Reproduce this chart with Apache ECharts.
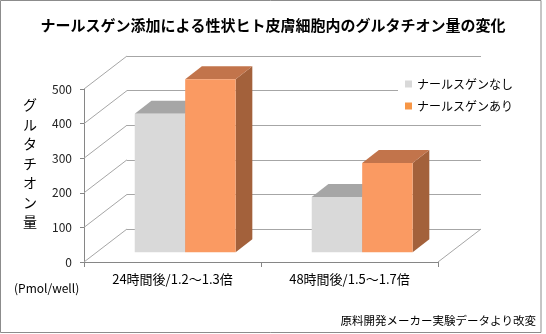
<!DOCTYPE html>
<html>
<head>
<meta charset="utf-8">
<script src="https://cdn.jsdelivr.net/npm/echarts@6/dist/echarts.min.js"></script>
<style>
  html, body { margin: 0; padding: 0; background: #fff; }
  #chart { width: 546px; height: 334px; }
</style>
</head>
<body>
<div id="chart"></div>
<script>
// Glutathione content in human skin cells, with and without Narsgen
const categories = ['24時間後/1.2～1.3倍', '48時間後/1.5～1.7倍'];
const withoutNarsgen = [400, 160];
const withNarsgen = [500, 258];
const yTicks = [0, 100, 200, 300, 400, 500];
const seriesNames = ['ナールスゲンなし', 'ナールスゲンあり'];

const FONT = '"Noto Sans CJK JP", "Noto Sans", sans-serif';

// pseudo-3D depth of the plot box (pixels from front plane to back wall)
const WALL_DX = 43, WALL_DY = -33;
// bar placement inside that depth
const BAR_FRONT = 0.295, BAR_DEPTH_X = 16.7, BAR_DEPTH_Y = -13;
const BAR_WIDTH_RATIO = 0.285;

const palettes = [
  { front: '#d9d9d9', top: '#a6a6a6', side: '#a0a0a0' },
  { front: '#fa9a62', top: '#c2744b', side: '#a3613b' }
];

function boxBar(slot, pal) {
  return function (params, api) {
    const cat = api.value(0), v = api.value(1);
    const base = api.coord([cat, 0]);
    const top = api.coord([cat, v]);
    const band = api.size([1, 0])[0];
    const bw = band * BAR_WIDTH_RATIO;
    const x0 = base[0] + slot * bw + WALL_DX * BAR_FRONT;
    const yb = base[1] + WALL_DY * BAR_FRONT;
    const yt = top[1] + WALL_DY * BAR_FRONT;
    const x1 = x0 + bw;
    const dx = BAR_DEPTH_X, dy = BAR_DEPTH_Y;
    return {
      type: 'group',
      children: [
        { type: 'polygon', shape: { points: [[x1, yt], [x1 + dx, yt + dy], [x1 + dx, yb + dy], [x1, yb]] },
          style: { fill: pal.side } },
        { type: 'polygon', shape: { points: [[x0, yt], [x1, yt], [x1 + dx, yt + dy], [x0 + dx, yt + dy]] },
          style: { fill: pal.top } },
        { type: 'rect', shape: { x: x0, y: yt, width: bw, height: yb - yt },
          style: { fill: pal.front } }
      ]
    };
  };
}

// side-wall and floor edges running from the front plane to the back wall
function wallEdges(params, api) {
  const v = api.value(1);
  const p = api.coord([0, v]);
  const band = api.size([1, 0])[0];
  const x = p[0] - band / 2;
  const style = { stroke: '#a6a6a6', lineWidth: 1 };
  const children = [
    { type: 'line', shape: { x1: x, y1: p[1], x2: x + WALL_DX, y2: p[1] + WALL_DY }, style: style }
  ];
  if (v === 0) {
    const xr = x + band * categories.length;
    children.push({ type: 'line', shape: { x1: xr, y1: p[1], x2: xr + WALL_DX, y2: p[1] + WALL_DY }, style: style });
  }
  return { type: 'group', children: children };
}

const chart = echarts.init(document.getElementById('chart'), null, { renderer: 'canvas' });

chart.setOption({
  animation: false,
  backgroundColor: '#fff',
  title: {
    text: 'ナールスゲン添加による性状ヒト皮膚細胞内のグルタチオン量の変化',
    left: 'center',
    top: 13,
    textStyle: { fontFamily: FONT, fontSize: 15, fontWeight: 'bold', color: '#000' }
  },
  legend: {
    orient: 'vertical',
    left: 398,
    top: 69,
    data: seriesNames,
    icon: 'rect',
    itemWidth: 7,
    itemHeight: 7,
    itemGap: 8,
    padding: [8, 10, 8, 7],
    backgroundColor: '#fff',
    textStyle: { fontFamily: FONT, fontSize: 12, color: '#000', lineHeight: 14 }
  },
  grid: [
    { left: 84, right: 108, top: 89, bottom: 72 },
    { left: 84 + WALL_DX, right: 108 - WALL_DX, top: 89 + WALL_DY, bottom: 72 - WALL_DY }
  ],
  xAxis: [
    {
      gridIndex: 0,
      type: 'category',
      data: categories,
      axisLine: { lineStyle: { color: '#868686', width: 1 } },
      axisTick: { show: true, length: 5, lineStyle: { color: '#868686' } },
      axisLabel: { fontFamily: FONT, fontSize: 13, color: '#000', margin: 11 },
      splitLine: { show: false }
    },
    { gridIndex: 1, type: 'category', data: categories, show: false }
  ],
  yAxis: [
    {
      gridIndex: 0,
      type: 'value',
      min: 0, max: 500, interval: 100,
      axisLine: { show: true, lineStyle: { color: '#868686', width: 1 } },
      axisTick: { show: true, length: 4, lineStyle: { color: '#868686' } },
      axisLabel: { fontFamily: FONT, fontSize: 12, color: '#222', margin: 12 },
      splitLine: { show: false }
    },
    {
      gridIndex: 1,
      type: 'value',
      min: 0, max: 500, interval: 100,
      axisLine: { show: false },
      axisTick: { show: false },
      axisLabel: { show: false },
      splitLine: { show: true, lineStyle: { color: '#a6a6a6', width: 1 } }
    }
  ],
  series: [
    {
      type: 'custom',
      name: 'walls',
      xAxisIndex: 0, yAxisIndex: 0,
      silent: true,
      renderItem: wallEdges,
      data: yTicks.map(function (v) { return [0, v]; }),
      z: 1
    },
    {
      type: 'custom',
      name: seriesNames[0],
      xAxisIndex: 0, yAxisIndex: 0,
      itemStyle: { color: '#d9d9d9' },
      renderItem: boxBar(-1, palettes[0]),
      encode: { x: 0, y: 1 },
      data: withoutNarsgen.map(function (v, i) { return [i, v]; }),
      z: 2
    },
    {
      type: 'custom',
      name: seriesNames[1],
      xAxisIndex: 0, yAxisIndex: 0,
      itemStyle: { color: '#f79646' },
      renderItem: boxBar(0, palettes[1]),
      encode: { x: 0, y: 1 },
      data: withNarsgen.map(function (v, i) { return [i, v]; }),
      z: 3
    }
  ],
  graphic: [
    {
      type: 'text',
      left: 23, top: 95,
      style: {
        text: 'グルタチオン量'.split('').join('\n'),
        font: '14px ' + FONT,
        fill: '#000',
        lineHeight: 19.5,
        align: 'center'
      }
    },
    {
      type: 'text',
      left: 14, top: 282,
      style: { text: '(Pmol/well)', font: '12px ' + FONT, fill: '#000' }
    },
    {
      type: 'text',
      right: 10, top: 315,
      style: { text: '原料開発メーカー実験データより改変', font: '11.5px ' + FONT, fill: '#000' }
    },
    {
      type: 'rect',
      shape: { x: 0.5, y: 0.5, width: 540.5, height: 332 },
      style: { fill: 'none', stroke: '#8c8c8c', lineWidth: 1 },
      silent: true
    }
  ]
});
</script>
</body>
</html>
